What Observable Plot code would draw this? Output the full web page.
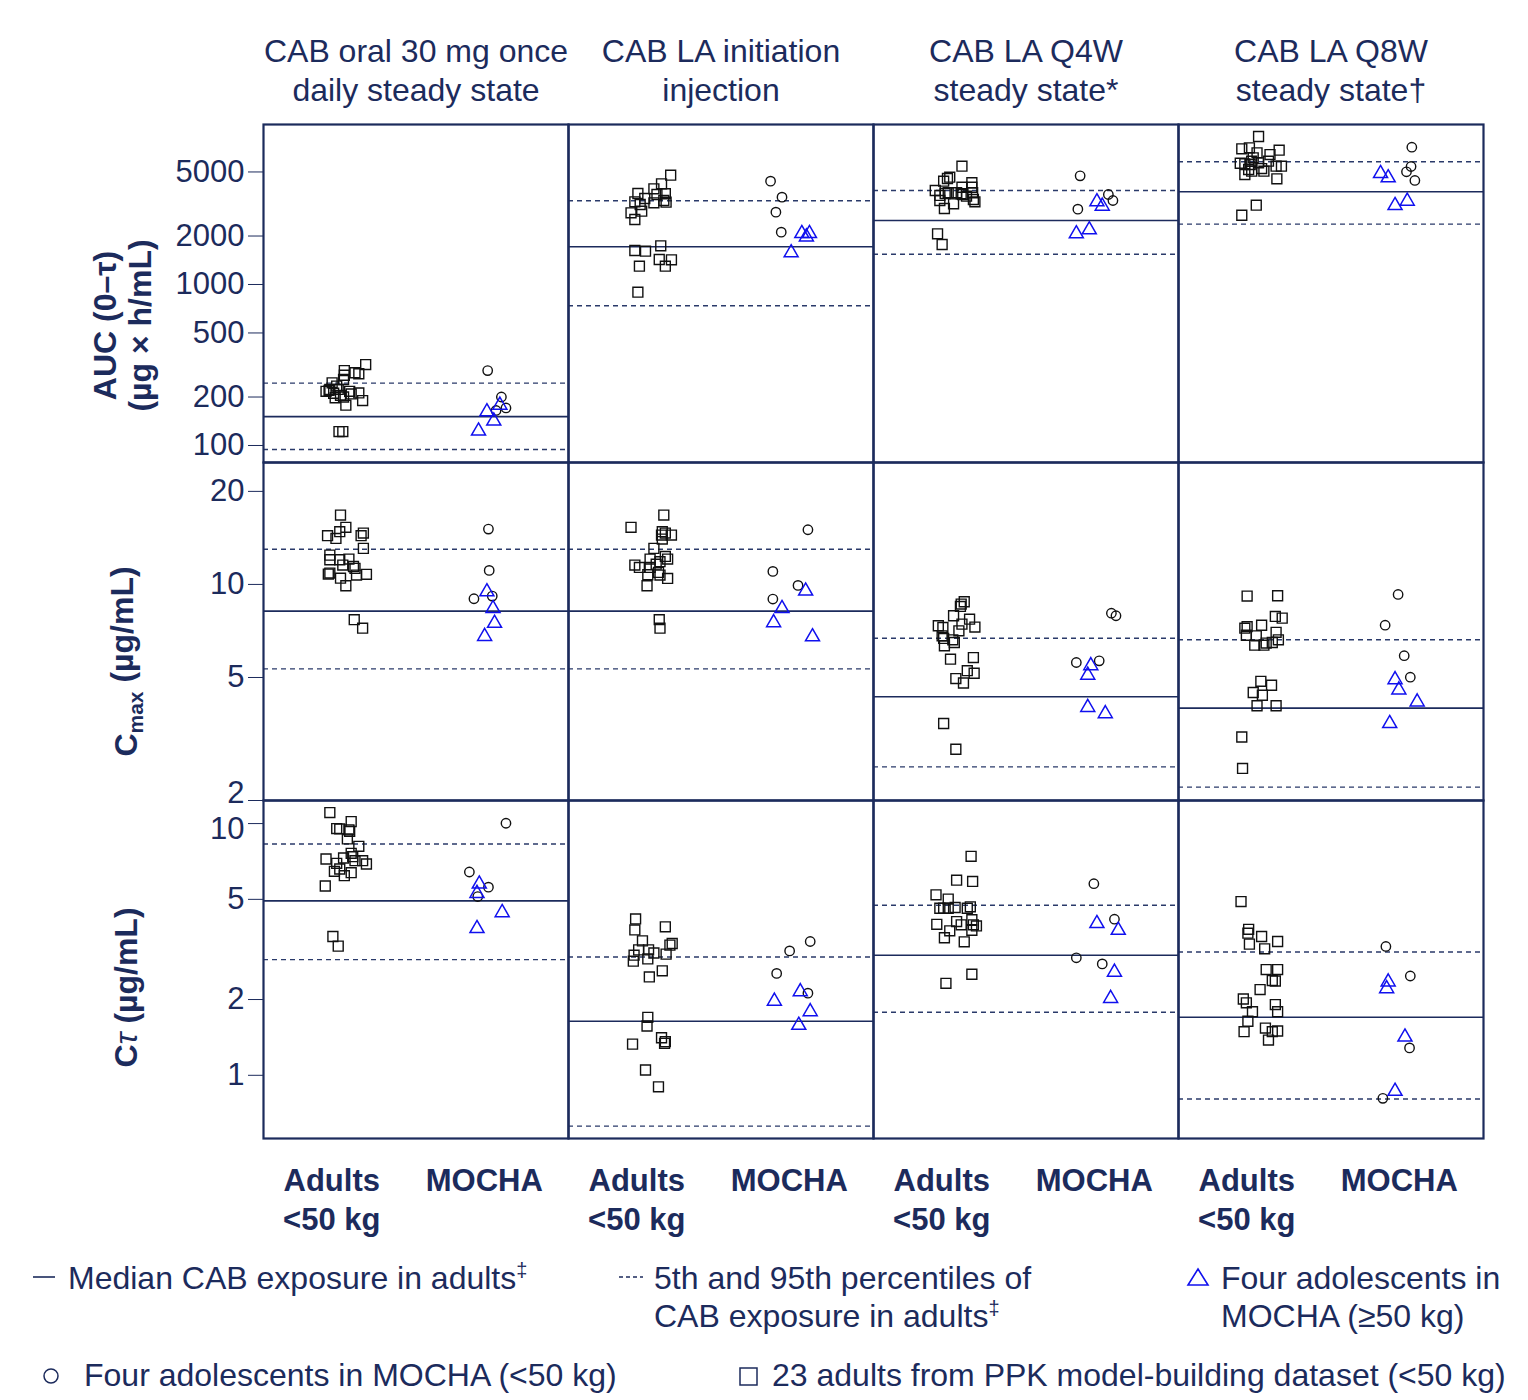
<!DOCTYPE html>
<html>
<head>
<meta charset="utf-8">
<script src="https://cdn.jsdelivr.net/npm/d3@7"></script>
<script src="https://cdn.jsdelivr.net/npm/@observablehq/plot@0.6"></script>
<style>
  html, body { margin: 0; padding: 0; background: #fff; overflow: hidden; }
  body { font-family: "Liberation Sans", Arial, sans-serif; color: #1c2b5c; }
  #chart { position: relative; width: 1528px; }
  #chart svg { display: block; overflow: visible; }
  .legend { position: relative; width: 1528px; height: 150px; font-size: 32px; color: #1c2b5c; }
  .legend .t { position: absolute; line-height: 38px; white-space: nowrap; }
  .legend .s { position: absolute; }
  .legend sup { font-size: 20px; vertical-align: 12px; line-height: 0; }
</style>
</head>
<body>
<div id="chart"></div>
<div class="legend">
  <svg class="s" style="left:33px;top:26px" width="24" height="6"><line x1="0" y1="3" x2="22" y2="3" stroke="#1c2b5c" stroke-width="1.6"/></svg>
  <div class="t" style="left:68px;top:11px">Median CAB exposure in adults<sup>‡</sup></div>
  <svg class="s" style="left:619px;top:26px" width="26" height="6"><line x1="0" y1="3" x2="24" y2="3" stroke="#1c2b5c" stroke-width="1.4" stroke-dasharray="4,3"/></svg>
  <div class="t" style="left:654px;top:11px">5th and 95th percentiles of<br>CAB exposure in adults<sup>‡</sup></div>
  <svg class="s" style="left:1186px;top:19px" width="24" height="20"><polygon points="12,2 22,18 2,18" fill="none" stroke="#1010ee" stroke-width="1.6"/></svg>
  <div class="t" style="left:1221px;top:11px">Four adolescents in<br>MOCHA (≥50 kg)</div>
  <svg class="s" style="left:41px;top:118px" width="20" height="20"><circle cx="10" cy="10" r="7" fill="none" stroke="#1c2b5c" stroke-width="1.5"/></svg>
  <div class="t" style="left:84px;top:108px">Four adolescents in MOCHA (&lt;50 kg)</div>
  <svg class="s" style="left:738px;top:118px" width="22" height="22"><rect x="2" y="2" width="17" height="17" fill="none" stroke="#1c2b5c" stroke-width="1.5"/></svg>
  <div class="t" style="left:772px;top:108px">23 adults from PPK model-building dataset (&lt;50 kg)</div>
</div>
<script>
// ---------- categories & labels ----------
const columns = ["oral", "init", "q4w", "q8w"];
const columnTitles = {
  oral: "CAB oral 30 mg once\ndaily steady state",
  init: "CAB LA initiation\ninjection",
  q4w: "CAB LA Q4W\nsteady state*",
  q8w: "CAB LA Q8W\nsteady state†"
};
const groupTicks = [1, 3];
const groupLabels = ["Adults\n<50 kg", "MOCHA"];

// ---------- AUC (0–τ), µg·h/mL ----------
const aucTicks = [100, 200, 500, 1000, 2000, 5000];
const aucAdults = [
  [318, 279, 283, 292, 273, 257, 245, 234, 217, 220, 211, 223, 217, 212, 198, 200, 205, 190, 178, 122, 122, 223, 209],
  [4775, 4220, 3930, 3660, 3675, 3420, 3263, 3140, 3216, 3325, 3245, 2788, 2853, 2534, 3623, 1739, 1626, 1610, 1430, 1423, 1300, 1300, 896],
  [5430, 4640, 4552, 4385, 3837, 3675, 3325, 2965, 3170, 4020, 3660, 4283, 4020, 3713, 3373, 3263, 3623, 3713, 3713, 3573, 2065, 1772, 3535],
  [8300, 6965, 7065, 6827, 6577, 6415, 6120, 5833, 5666, 5620, 5562, 5250, 5057, 4823, 5057, 5430, 5430, 4533, 5180, 5833, 5700, 3108, 2693]
];
const aucAdultsX = [
  [1.34, 1.25, 1.20, 1.06, 1.06, 1.05, 0.90, 0.96, 0.82, 0.86, 0.92, 0.98, 1.13, 1.25, 0.94, 1.05, 1.01, 1.30, 1.08, 0.99, 1.04, 0.87, 1.15],
  [1.34, 1.22, 1.12, 1.27, 0.91, 1.00, 0.87, 0.94, 1.12, 1.25, 1.28, 0.82, 0.96, 0.87, 1.16, 1.21, 0.87, 1.01, 1.19, 1.35, 1.27, 0.93, 0.91],
  [1.16, 1.00, 0.97, 0.92, 0.81, 0.94, 0.87, 0.93, 1.05, 1.16, 1.15, 1.29, 1.29, 1.30, 1.31, 1.33, 1.17, 0.98, 1.09, 0.87, 0.84, 0.90, 1.22],
  [1.05, 0.83, 0.93, 1.32, 1.03, 1.20, 0.98, 0.96, 0.81, 0.87, 0.94, 1.09, 1.12, 0.87, 0.96, 1.28, 1.35, 1.29, 0.92, 1.18, 1.05, 1.02, 0.83]
];
const aucMochaLt50 = [[292, 200, 165, 171], [4385, 3486, 2813, 2113], [4732, 3623, 3325, 2936], [7125, 5408, 5012, 4427]];
const aucMochaLt50X = [[2.94, 3.12, 3.05, 3.18], [2.65, 2.80, 2.72, 2.79], [2.71, 3.08, 3.14, 2.68], [3.06, 3.05, 2.99, 3.10]];
const aucMochaGe50 = [[178, 162, 142, 123], [2074, 2074, 1977, 1573], [3263, 3064, 2186, 2065], [4890, 4600, 3291, 3096]];
const aucMochaGe50X = [[3.10, 2.93, 3.02, 2.82], [3.06, 3.16, 3.12, 2.92], [2.93, 3.00, 2.83, 2.66], [2.65, 2.75, 3.00, 2.84]];
const aucMedian = [151, 1714, 2500, 3768];
const aucP5 = [94.4, 738, 1541, 2372];
const aucP95 = [244, 3311, 3837, 5781];

// ---------- Cmax, µg/mL ----------
const cmaxTicks = [2, 5, 10, 20];
const cmaxAdults = [
  [16.76, 15.30, 14.81, 14.38, 14.09, 14.66, 14.38, 13.08, 12.44, 12.02, 12.02, 12.08, 11.55, 11.43, 11.27, 10.88, 10.80, 10.48, 10.72, 10.78, 9.90, 7.69, 7.22],
  [16.76, 15.30, 14.81, 14.66, 14.44, 14.02, 13.08, 12.08, 12.32, 12.08, 11.85, 11.55, 11.35, 11.35, 10.94, 10.72, 10.75, 10.46, 9.90, 7.69, 7.22, 14.44, 11.63],
  [8.79, 8.64, 8.49, 7.92, 7.72, 7.44, 7.35, 7.26, 7.08, 7.28, 6.69, 6.62, 6.49, 6.33, 5.73, 5.80, 5.26, 5.16, 4.96, 4.80, 3.55, 2.93, 6.82],
  [9.17, 9.19, 7.88, 7.78, 7.30, 7.22, 7.38, 7.00, 6.85, 6.82, 6.62, 6.36, 6.36, 6.46, 6.49, 4.86, 4.72, 4.47, 4.38, 4.05, 4.05, 3.21, 2.54]
];
const cmaxAdultsX = [
  [1.01, 1.08, 1.00, 0.84, 0.95, 1.31, 1.28, 1.31, 0.87, 0.87, 1.00, 1.12, 1.04, 1.18, 1.20, 0.87, 0.85, 1.01, 1.22, 1.35, 1.08, 1.19, 1.30],
  [1.25, 0.82, 1.23, 1.27, 1.35, 1.23, 1.12, 1.07, 1.27, 1.30, 1.20, 0.87, 0.93, 1.07, 1.18, 1.20, 1.04, 1.30, 1.03, 1.19, 1.20, 1.22, 1.15],
  [1.19, 1.15, 1.14, 1.05, 1.26, 1.16, 0.85, 0.91, 1.12, 1.33, 0.92, 1.04, 1.06, 0.93, 1.01, 1.31, 1.23, 1.32, 1.08, 1.18, 0.92, 1.08, 0.90],
  [0.90, 1.30, 1.27, 1.36, 0.90, 0.87, 1.09, 1.28, 0.89, 1.02, 1.31, 1.00, 1.12, 1.15, 1.23, 1.08, 1.22, 0.98, 1.10, 1.03, 1.28, 0.83, 0.84]
];
const cmaxMochaLt50 = [[15.10, 11.10, 8.99, 9.17], [15.03, 11.02, 9.93, 8.97], [8.07, 7.92, 5.59, 5.66], [9.28, 7.38, 5.88, 5.01]];
const cmaxMochaLt50X = [[2.95, 2.96, 2.76, 3.00], [3.14, 2.68, 3.01, 2.68], [3.12, 3.18, 2.66, 2.96], [2.88, 2.71, 2.96, 3.04]];
const cmaxMochaGe50 = [[9.47, 8.36, 7.49, 6.79], [9.52, 8.36, 7.52, 6.77], [5.46, 5.09, 4.00, 3.82], [4.92, 4.56, 4.17, 3.55]];
const cmaxMochaGe50X = [[2.93, 3.01, 3.03, 2.90], [3.11, 2.80, 2.69, 3.20], [2.85, 2.81, 2.81, 3.04], [2.84, 2.89, 3.13, 2.77]];
const cmaxMedian = [8.2, 8.2, 4.33, 3.98];
const cmaxP5 = [5.33, 5.33, 2.57, 2.21];
const cmaxP95 = [13.0, 13.0, 6.70, 6.62];

// ---------- Cτ, µg/mL ----------
const ctauTicks = [1, 2, 5, 10];
const ctauAdults = [
  [11.06, 10.18, 9.55, 9.52, 9.44, 8.69, 8.12, 7.62, 7.23, 7.30, 7.39, 7.12, 7.12, 6.91, 6.95, 6.60, 6.46, 6.38, 6.21, 5.65, 3.56, 3.26, 9.32],
  [4.18, 3.78, 3.89, 3.42, 3.34, 3.29, 3.15, 3.15, 3.06, 3.03, 3.00, 2.84, 2.90, 2.60, 2.46, 1.70, 1.57, 1.41, 1.34, 1.36, 1.33, 1.05, 0.90],
  [7.41, 5.96, 5.89, 5.21, 5.01, 4.61, 4.61, 4.61, 4.64, 4.67, 4.61, 3.98, 4.08, 3.96, 4.15, 3.96, 3.92, 3.77, 3.75, 3.52, 3.39, 2.52, 2.32],
  [4.90, 3.80, 3.67, 3.56, 3.32, 3.40, 3.18, 2.63, 2.63, 2.38, 2.37, 2.19, 2.01, 1.94, 1.79, 1.91, 1.79, 1.64, 1.49, 1.54, 1.49, 1.50, 1.38]
];
const ctauAdultsX = [
  [0.87, 1.15, 0.96, 1.00, 1.12, 1.10, 1.25, 1.15, 0.82, 1.05, 1.17, 1.20, 1.30, 1.35, 0.96, 1.00, 0.93, 1.15, 1.06, 0.81, 0.91, 0.98, 1.13],
  [0.88, 0.87, 1.27, 0.97, 1.36, 1.33, 0.92, 1.05, 1.12, 1.28, 0.86, 0.85, 1.04, 1.23, 1.06, 1.04, 1.03, 1.22, 1.26, 1.27, 0.84, 1.01, 1.18],
  [1.28, 1.09, 1.30, 0.82, 0.98, 0.87, 0.92, 0.98, 1.07, 1.27, 1.23, 0.83, 1.09, 1.15, 1.29, 1.31, 1.35, 1.29, 1.00, 0.93, 1.19, 1.29, 0.95],
  [0.82, 0.92, 0.91, 1.09, 0.93, 1.30, 1.13, 1.15, 1.30, 1.23, 1.27, 1.07, 0.85, 0.89, 0.97, 1.27, 1.30, 0.91, 0.86, 1.14, 1.23, 1.30, 1.18]
];
const ctauMochaLt50 = [[10.03, 6.42, 5.59, 5.13], [3.40, 3.12, 2.54, 2.12], [5.77, 4.17, 2.93, 2.77], [3.25, 2.48, 1.285, 0.81]];
const ctauMochaLt50X = [[3.18, 2.70, 2.95, 2.81], [3.17, 2.90, 2.73, 3.14], [2.89, 3.16, 2.66, 3.00], [2.72, 3.04, 3.03, 2.68]];
const ctauMochaGe50 = [[5.75, 5.28, 4.43, 3.83], [2.15, 1.97, 1.79, 1.58], [4.01, 3.77, 2.57, 2.02], [2.35, 2.21, 1.42, 0.864]];
const ctauMochaGe50X = [[2.83, 2.80, 3.13, 2.80], [3.04, 2.70, 3.17, 3.02], [2.93, 3.21, 3.16, 3.11], [2.75, 2.73, 2.97, 2.84]];
const ctauMedian = [4.93, 1.64, 3.00, 1.70];
const ctauP5 = [2.88, 0.628, 1.78, 0.805];
const ctauP95 = [8.30, 2.95, 4.74, 3.09];

// ---------- styling ----------
const navy = "#1c2b5c";
const dashColor = "#2a3a6a";
const blue = "#1010ee";
const font = "'Liberation Sans', Arial, sans-serif";

function buildRow(spec) {
  const adults = [], circles = [], triangles = [];
  columns.forEach((col, i) => {
    spec.adults[i].forEach((v, j) => adults.push({col, x: spec.adultsX[i][j], v}));
    spec.lt50[i].forEach((v, j) => circles.push({col, x: spec.lt50X[i][j], v}));
    spec.ge50[i].forEach((v, j) => triangles.push({col, x: spec.ge50X[i][j], v}));
  });
  const refs = columns.map((col, i) => ({col, median: spec.median[i], p5: spec.p5[i], p95: spec.p95[i]}));
  const marks = [
    Plot.ruleY(refs, {fx: "col", y: "p95", stroke: dashColor, strokeWidth: 1.4, strokeDasharray: "5,4"}),
    Plot.ruleY(refs, {fx: "col", y: "p5", stroke: dashColor, strokeWidth: 1.4, strokeDasharray: "5,4"}),
    Plot.ruleY(refs, {fx: "col", y: "median", stroke: navy, strokeWidth: 1.6}),
    Plot.dot(adults, {fx: "col", x: "x", y: "v", symbol: "square", r: 5.6, stroke: "#111", strokeWidth: 1.4, fill: "none"}),
    Plot.dot(circles, {fx: "col", x: "x", y: "v", symbol: "circle", r: 4.7, stroke: "#111", strokeWidth: 1.4, fill: "none"}),
    Plot.dot(triangles, {fx: "col", x: "x", y: "v", symbol: "triangle", r: 5.2, stroke: blue, strokeWidth: 1.5, fill: "none"}),
    Plot.frame({stroke: navy, strokeWidth: 2.2}),
    Plot.axisY({ticks: spec.ticks, tickFormat: d => String(d), tickSize: 15, tickPadding: 4, fontSize: 31,
      label: null, anchor: "left"}),
    Plot.text([spec.label], {fx: () => columns[0], text: d => d, frameAnchor: "left", textAnchor: "middle", rotate: -90,
      dx: spec.labelDx, dy: spec.labelDy, fontSize: 32, fontWeight: "bold", lineHeight: 1.1, fill: navy})
  ];
  if (spec.top) {
    marks.push(Plot.axisFx({anchor: "top", tickSize: 0, tickPadding: 24, fontSize: 32, lineHeight: 1.2,
      tickFormat: c => columnTitles[c], label: null}));
  }
  if (spec.bottom) {
    marks.push(Plot.axisX({anchor: "bottom", ticks: groupTicks, tickSize: 0, tickPadding: 24, fontSize: 31,
      fontWeight: "bold", lineHeight: 1.28, dx: -8, label: null,
      tickFormat: d => groupLabels[groupTicks.indexOf(d)]}));
  }
  const svg = Plot.plot({
    width: 1528,
    height: spec.marginTop + 338 + spec.marginBottom,
    marginLeft: 263, marginRight: 45, marginTop: spec.marginTop, marginBottom: spec.marginBottom,
    style: {fontFamily: font, color: navy, background: "transparent", overflow: "visible"},
    fx: {domain: columns, padding: 0, axis: null},
    x: {domain: [0, 4], axis: null},
    y: {type: "log", domain: spec.domain, axis: null},
    marks
  });
  // nudge the tick labels that crowd each other at the seam between rows
  svg.querySelectorAll("text").forEach(t => {
    const shift = spec.labelShift && spec.labelShift[t.textContent];
    if (shift !== undefined && t.closest("g[aria-label='y-axis tick label']")) {
      t.setAttribute("dy", (parseFloat(t.getAttribute("dy")) || 0) + shift);
    }
  });
  return svg;
}

const chart = document.getElementById("chart");
chart.append(buildRow({
  adults: aucAdults, adultsX: aucAdultsX, lt50: aucMochaLt50, lt50X: aucMochaLt50X, ge50: aucMochaGe50, ge50X: aucMochaGe50X,
  median: aucMedian, p5: aucP5, p95: aucP95, ticks: aucTicks, domain: [78.4, 9858],
  label: "AUC (0–τ)\n(µg × h/mL)", labelDx: -141, labelDy: 32, marginTop: 124, marginBottom: 0, top: true
}));
chart.append(buildRow({
  adults: cmaxAdults, adultsX: cmaxAdultsX, lt50: cmaxMochaLt50, lt50X: cmaxMochaLt50X, ge50: cmaxMochaGe50, ge50X: cmaxMochaGe50X,
  median: cmaxMedian, p5: cmaxP5, p95: cmaxP95, ticks: cmaxTicks, domain: [2, 24.8],
  labelShift: {"2": -7},
  label: "Cmax (µg/mL)", labelDx: -138, labelDy: 30, marginTop: 0, marginBottom: 0
}));
chart.append(buildRow({
  adults: ctauAdults, adultsX: ctauAdultsX, lt50: ctauMochaLt50, lt50X: ctauMochaLt50X, ge50: ctauMochaGe50, ge50X: ctauMochaGe50X,
  median: ctauMedian, p5: ctauP5, p95: ctauP95, ticks: ctauTicks, domain: [0.561, 12.35],
  labelShift: {"10": 6},
  label: "Cτ (µg/mL)", labelDx: -138, labelDy: 18, marginTop: 0, marginBottom: 110, bottom: true
}));

// subscript / italic styling of the rotated axis titles
const NS = "http://www.w3.org/2000/svg";
chart.querySelectorAll("text").forEach(t => {
  if (t.textContent === "Cmax (µg/mL)") {
    t.textContent = "C";
    const s = document.createElementNS(NS, "tspan");
    s.setAttribute("font-size", "21"); s.setAttribute("dy", "0.3em"); s.textContent = "max";
    const r = document.createElementNS(NS, "tspan");
    r.setAttribute("dy", "-0.3em"); r.textContent = " (µg/mL)";
    t.append(s, r);
  } else if (t.textContent === "Cτ (µg/mL)") {
    t.textContent = "C";
    const s = document.createElementNS(NS, "tspan");
    s.setAttribute("font-style", "italic"); s.setAttribute("font-weight", "normal"); s.textContent = "τ";
    const r = document.createElementNS(NS, "tspan");
    r.textContent = " (µg/mL)";
    t.append(s, r);
  }
});
</script>
</body>
</html>
